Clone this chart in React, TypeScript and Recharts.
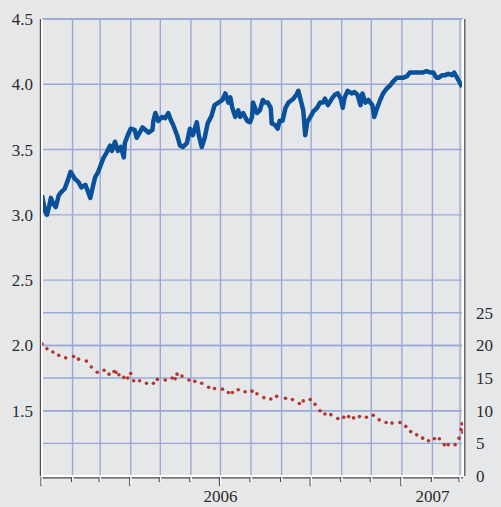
import React from 'react';
import { ComposedChart, Line, XAxis, YAxis, CartesianGrid, ReferenceLine } from 'recharts';

// x axis: days since 1 Jan 2006
const monthStarts = [0, 31, 59, 90, 120, 151, 181, 212, 243, 273, 304, 334, 365, 396, 424];
const quarterStarts = [0, 90, 181, 273, 365];
const yearLabelDays = [181, 396];
const yearLabels = ['2006', '2007'];
const leftTicks = [1.5, 2.0, 2.5, 3.0, 3.5, 4.0, 4.5];
const rightTicks = [0, 5, 10, 15, 20, 25];

const blueDays = [0, 1, 3, 5, 8, 9, 11, 14, 17, 19, 23, 26, 29, 33, 37, 40, 44, 47, 49, 52, 54, 57, 60, 62, 65, 69, 71, 74, 77, 80, 83, 84, 87, 90, 94, 96, 99, 102, 105, 108, 112, 113, 115, 118, 122, 125, 128, 131, 133, 137, 140, 143, 147, 150, 153, 157, 159, 162, 165, 168, 172, 175, 179, 183, 186, 189, 191, 193, 196, 199, 201, 204, 208, 211, 213, 214, 218, 221, 224, 226, 229, 232, 233, 236, 239, 241, 244, 247, 250, 255, 258, 260, 263, 265, 267, 269, 273, 275, 279, 282, 285, 287, 290, 294, 297, 300, 303, 305, 307, 310, 314, 317, 320, 323, 325, 328, 331, 335, 337, 340, 343, 346, 350, 353, 356, 360, 363, 366, 370, 373, 376, 380, 383, 386, 390, 394, 397, 400, 402, 406, 409, 412, 416, 418, 421, 424, 426];
const blueValues = [3.15, 3.11, 3.03, 3.0, 3.09, 3.13, 3.09, 3.06, 3.15, 3.17, 3.2, 3.26, 3.33, 3.28, 3.25, 3.21, 3.23, 3.17, 3.13, 3.23, 3.29, 3.33, 3.39, 3.43, 3.47, 3.53, 3.49, 3.56, 3.49, 3.52, 3.44, 3.55, 3.61, 3.66, 3.65, 3.59, 3.63, 3.67, 3.65, 3.63, 3.65, 3.72, 3.78, 3.72, 3.75, 3.74, 3.78, 3.72, 3.69, 3.61, 3.53, 3.52, 3.55, 3.66, 3.61, 3.71, 3.61, 3.52, 3.59, 3.7, 3.76, 3.84, 3.86, 3.88, 3.93, 3.86, 3.9, 3.82, 3.75, 3.8, 3.75, 3.78, 3.72, 3.71, 3.75, 3.86, 3.78, 3.8, 3.88, 3.86, 3.86, 3.82, 3.7, 3.69, 3.66, 3.72, 3.72, 3.82, 3.86, 3.89, 3.92, 3.95, 3.86, 3.8, 3.61, 3.71, 3.76, 3.79, 3.82, 3.86, 3.86, 3.89, 3.84, 3.89, 3.92, 3.93, 3.89, 3.82, 3.9, 3.95, 3.93, 3.94, 3.92, 3.84, 3.93, 3.86, 3.88, 3.84, 3.75, 3.82, 3.88, 3.93, 3.97, 3.99, 4.02, 4.05, 4.05, 4.05, 4.06, 4.09, 4.09, 4.09, 4.09, 4.09, 4.1, 4.09, 4.09, 4.05, 4.05, 4.07, 4.07, 4.08, 4.07, 4.09, 4.05, 4.01, 3.98];

const redDays = [0, 5, 11, 17, 24, 32, 37, 45, 50, 56, 63, 68, 73, 75, 78, 83, 87, 90, 93, 99, 106, 113, 117, 125, 132, 135, 137, 142, 149, 155, 162, 169, 175, 183, 189, 193, 199, 206, 213, 218, 225, 232, 238, 247, 254, 261, 265, 272, 277, 282, 287, 293, 300, 306, 311, 316, 322, 329, 336, 342, 349, 355, 363, 369, 374, 380, 386, 392, 398, 403, 408, 412, 419, 423, 425, 426, 427];
const redValues = [20.2, 19.5, 19.0, 18.5, 18.1, 18.3, 17.9, 17.6, 16.7, 15.9, 16.2, 15.6, 16.0, 15.9, 15.5, 15.1, 15.0, 15.7, 14.6, 14.6, 14.2, 14.2, 14.8, 14.7, 15.0, 14.9, 15.6, 15.3, 14.7, 14.5, 14.2, 13.6, 13.4, 13.3, 12.8, 12.8, 13.2, 12.9, 13.0, 12.6, 12.0, 11.8, 12.2, 11.9, 11.7, 11.1, 11.5, 11.7, 11.0, 10.0, 9.5, 9.4, 8.8, 9.0, 9.1, 8.9, 9.1, 9.0, 9.3, 8.6, 8.2, 8.1, 8.2, 7.6, 6.8, 6.3, 5.8, 5.4, 5.7, 5.7, 4.8, 4.8, 4.8, 5.8, 7.1, 8.0, 6.7];

const blueData = blueDays.map((d, i) => ({ d, v: blueValues[i] }));
const redData = redDays.map((d, i) => ({ d, r: redValues[i] }));

const BG = '#e6e7e9';
const GRID = '#9aa8d8';
const TEXT = '#2b2b2b';
const SHADOW = '#4a4a4a';
const FONT = 'Liberation Serif, DejaVu Serif, serif';

const XTick = (props: any) => {
  const { x, y, payload } = props;
  const val = payload.value;
  const long = quarterStarts.includes(val);
  const li = yearLabelDays.indexOf(val);
  const len = long ? 10 : 6;
  return (
    <g>
      <line x1={x - 1} x2={x - 1} y1={y + 1} y2={y + len} stroke={SHADOW} strokeWidth={1.2} />
      <line x1={x + 0.2} x2={x + 0.2} y1={y + 1} y2={y + len - 1} stroke="#ffffff" strokeWidth={1.4} />
      {li >= 0 && (
        <text x={x} y={y + 26} textAnchor="middle" fill={TEXT} style={{ fontSize: 17, fontFamily: FONT }}>
          {yearLabels[li]}
        </text>
      )}
    </g>
  );
};

const LeftTick = (props: any) => {
  const { x, y, payload } = props;
  return (
    <text x={x} y={y + 6} textAnchor="end" fill={TEXT} style={{ fontSize: 17, fontFamily: FONT }}>
      {Number(payload.value).toFixed(1)}
    </text>
  );
};

const RightTick = (props: any) => {
  const { x, y, payload } = props;
  return (
    <text x={x} y={y + 6} textAnchor="start" fill={TEXT} style={{ fontSize: 17, fontFamily: FONT }}>
      {String(payload.value)}
    </text>
  );
};

const shadowShape = (dx: number, dy: number) => (p: any) => (
  <line x1={p.x1 + dx} y1={p.y1 + dy} x2={p.x2 + dx} y2={p.y2 + dy} stroke={SHADOW} strokeWidth={1.2} />
);

export default function App() {
  return (
    <div style={{ position: 'absolute', left: 0, top: 0, width: 501, height: 507, background: BG }}>
      <ComposedChart
        width={501}
        height={507}
        margin={{ top: 19, right: 0, bottom: 0, left: 0 }}
      >
        <CartesianGrid xAxisId="x" yAxisId="left" stroke={GRID} strokeWidth={1.4} fill="none" />
        <CartesianGrid xAxisId="x" yAxisId="right" vertical={false} stroke={GRID} strokeWidth={1.4} fill="none" />
        <XAxis
          xAxisId="x"
          type="number"
          dataKey="d"
          domain={[0, 427]}
          ticks={monthStarts}
          allowDataOverflow
          height={31}
          tickSize={0}
          tickMargin={0}
          tickLine={false}
          axisLine={{ stroke: '#ffffff', strokeWidth: 2 }}
          tick={<XTick />}
          interval={0}
        />
        <YAxis
          yAxisId="left"
          orientation="left"
          type="number"
          domain={[1, 4.5]}
          ticks={leftTicks}
          width={42}
          tickSize={0}
          tickMargin={9}
          tickLine={false}
          axisLine={{ stroke: '#ffffff', strokeWidth: 2 }}
          tick={<LeftTick />}
          interval={0}
        />
        <YAxis
          yAxisId="right"
          orientation="right"
          type="number"
          domain={[0, 70]}
          ticks={rightTicks}
          width={38}
          tickSize={0}
          tickMargin={13}
          tickLine={false}
          axisLine={{ stroke: '#ffffff', strokeWidth: 2 }}
          tick={<RightTick />}
          interval={0}
        />
        <ReferenceLine xAxisId="x" yAxisId="left" x={0} shape={shadowShape(-1.6, 0)} />
        <ReferenceLine xAxisId="x" yAxisId="left" x={427} shape={shadowShape(1.8, 0)} />
        <ReferenceLine xAxisId="x" yAxisId="left" y={1} shape={shadowShape(0, 1.8)} />
        <Line
          xAxisId="x"
          yAxisId="left"
          data={blueData}
          dataKey="v"
          type="linear"
          stroke="#0a519c"
          strokeWidth={4.5}
          strokeLinejoin="round"
          dot={false}
          activeDot={false}
          isAnimationActive={false}
        />
        <Line
          xAxisId="x"
          yAxisId="right"
          data={redData}
          dataKey="r"
          type="linear"
          stroke="none"
          dot={{ r: 1.8, fill: '#b5342d', stroke: 'none' }}
          activeDot={false}
          isAnimationActive={false}
        />
      </ComposedChart>
    </div>
  );
}
